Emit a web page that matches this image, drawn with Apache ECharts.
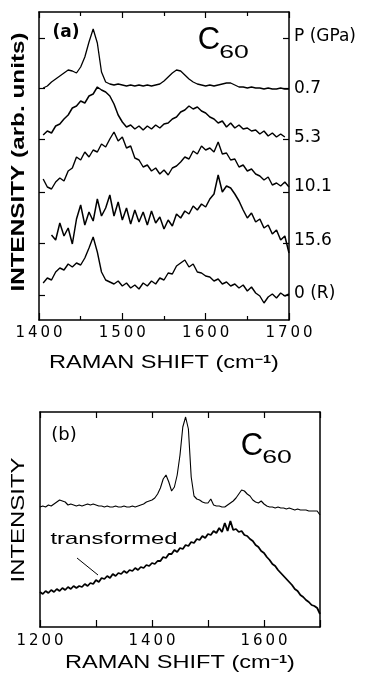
<!DOCTYPE html>
<html>
<head>
<meta charset="utf-8">
<script src="https://cdn.jsdelivr.net/npm/echarts@6/dist/echarts.min.js"></script>
<style>
  html, body { margin: 0; padding: 0; background: #fff; }
  #chart { width: 378px; height: 674px; }
</style>
</head>
<body>
<div id="chart"></div>
<script>
// ---- panel (a): Raman shift (cm-1) and offset spectra at each pressure ----
var waveA = [1405, 1410, 1415, 1420, 1425, 1430, 1435, 1440, 1445, 1450,
    1455, 1460, 1465, 1470, 1475, 1480, 1485, 1490, 1495, 1500,
    1505, 1510, 1515, 1520, 1525, 1530, 1535, 1540, 1545, 1550,
    1555, 1560, 1565, 1570, 1575, 1580, 1585, 1590, 1595, 1600,
    1605, 1610, 1615, 1620, 1625, 1630, 1635, 1640, 1645, 1650,
    1655, 1660, 1665, 1670, 1675, 1680, 1685, 1690, 1695, 1700];
var p07 = [232, 234, 238, 241, 244, 247, 250, 249, 247, 253,
    263, 278, 291, 277, 248, 238, 236, 235, 236, 235,
    234, 235, 234, 235, 234, 235, 234, 235, 236, 239,
    243, 247, 250, 249, 245, 241, 238, 236, 235, 234,
    235, 234, 235, 236, 237, 237, 235, 233, 233, 232,
    233, 232, 232, 231, 232, 231, 231, 232, 231, 231];
var p53 = [185, 189, 187, 194, 196, 201, 205, 212, 214, 219,
    217, 224, 226, 233, 230, 228, 224, 216, 205, 198,
    193, 195, 191, 194, 190, 194, 191, 195, 192, 196,
    197, 201, 203, 208, 210, 214, 211, 213, 209, 207,
    203, 201, 197, 199, 193, 197, 192, 195, 191, 192,
    189, 190, 186, 189, 184, 187, 183, 186, 183, null];
var p101 = [141, 133, 131, 138, 142, 139, 149, 152, 163, 160,
    168, 163, 170, 168, 176, 173, 181, 188, 179, 183,
    172, 174, 162, 160, 153, 155, 149, 152, 146, 150,
    145, 152, 154, 158, 163, 161, 169, 166, 174, 170,
    172, 168, 178, 166, 167, 160, 161, 153, 155, 149,
    151, 146, 144, 140, 143, 135, 137, 134, 138, 133];
var p156 = [null, null, 85, 80, 97, 84, 92, 76, 101, 115,
    95, 108, 99, 121, 104, 112, 125, 104, 118, 100,
    112, 96, 110, 98, 108, 95, 109, 97, 103, 91,
    100, 94, 106, 102, 109, 106, 114, 110, 116, 113,
    121, 126, 145, 128, 134, 132, 126, 119, 110, 102,
    107, 98, 101, 92, 95, 86, 90, 80, 84, 67];
var p0R = [37, 42, 40, 48, 52, 50, 56, 53, 57, 55,
    62, 72, 83, 68, 48, 40, 38, 36, 39, 34,
    37, 32, 35, 31, 37, 34, 39, 36, 42, 40,
    47, 46, 54, 57, 60, 53, 56, 48, 47, 44,
    43, 39, 41, 36, 38, 34, 36, 32, 35, 29,
    33, 27, 24, 17, 23, 26, 22, 27, 24, 26];
var pressureNames = ['P (GPa)', '0.7', '5.3', '10.1', '15.6', '0 (R)'];
var pressureLabelAt = [283, 231, 182, 133, 79, 26];
var baselineTicks = [25, 77, 128, 181, 232, 282];

// ---- panel (b): pristine and transformed C60 ----
var waveB = [1200, 1205, 1210, 1215, 1220, 1225, 1230, 1235, 1240, 1245,
    1250, 1255, 1260, 1265, 1270, 1275, 1280, 1285, 1290, 1295,
    1300, 1305, 1310, 1315, 1320, 1325, 1330, 1335, 1340, 1345,
    1350, 1355, 1360, 1365, 1370, 1375, 1380, 1385, 1390, 1395,
    1400, 1405, 1410, 1415, 1420, 1425, 1430, 1435, 1440, 1445,
    1450, 1455, 1460, 1465, 1470, 1475, 1480, 1485, 1490, 1495,
    1500, 1505, 1510, 1515, 1520, 1525, 1530, 1535, 1540, 1545,
    1550, 1555, 1560, 1565, 1570, 1575, 1580, 1585, 1590, 1595,
    1600, 1605, 1610, 1615, 1620, 1625, 1630, 1635, 1640, 1645,
    1650, 1655, 1660, 1665, 1670, 1675, 1680, 1685, 1690, 1695,
    1700];
var pristine = [120, 121, 120, 122, 121, 123, 125, 127, 126, 125,
    122, 123, 122, 121, 122, 121, 122, 123, 122, 123,
    122, 121, 121, 120, 121, 120, 120, 121, 120, 120,
    121, 120, 120, 121, 120, 121, 122, 123, 125, 126,
    127, 129, 133, 139, 148, 152, 145, 136, 140, 152,
    172, 200, 210, 198, 150, 131, 128, 127, 125, 124,
    124, 128, 122, 121, 121, 120, 120, 122, 124, 126,
    129, 133, 137, 136, 133, 131, 127, 125, 124, 126,
    123, 121, 120, 120, 119, 120, 119, 119, 118, 119,
    118, 117, 118, 117, 117, 117, 116, 116, 116, 116,
    112];
var transformed = [35, 33, 36, 34, 37, 35, 38, 36, 39, 37,
    40, 38, 41, 39, 41, 40, 43, 41, 44, 43,
    47, 45, 49, 48, 51, 49, 53, 51, 54, 53,
    56, 54, 57, 56, 59, 57, 60, 59, 62, 61,
    64, 63, 66, 66, 70, 69, 73, 73, 77, 75,
    79, 78, 82, 81, 85, 84, 88, 87, 91, 89,
    93, 92, 96, 94, 99, 95, 104, 96, 106, 97,
    98, 95, 96, 92, 91, 88, 86, 82, 80, 76,
    74, 70, 67, 63, 61, 57, 54, 51, 48, 45,
    42, 38, 36, 32, 30, 27, 25, 22, 21, 19,
    13];

function pairs(xs, ys) {
    var out = [];
    for (var i = 0; i < xs.length; i++) {
        if (ys[i] != null) out.push([xs[i], ys[i]]);
    }
    return out;
}

function spaced(v) { // wide-set digits like the printed figure
    return String(v).split('').join('\u2009');
}

function spectrum(data, xi, yi, w) {
    return {
        type: 'line', data: data, xAxisIndex: xi, yAxisIndex: yi,
        symbol: 'none', silent: true,
        lineStyle: { color: '#000', width: w || 1.3 }
    };
}

function txt(x, y, text, font, extra) {
    var el = {
        type: 'text', x: x, y: y, silent: true,
        style: {
            text: text, font: font, fill: '#000',
            align: 'center', verticalAlign: 'middle',
            textAlign: 'center', textVerticalAlign: 'middle'
        }
    };
    if (extra) {
        for (var k in extra) {
            if (k === 'rich') el.style.rich = extra[k];
            else el[k] = extra[k];
        }
    }
    return el;
}

var sans = '"Liberation Sans", Arial, sans-serif';
var shiftRich = {
    n: { font: '18px ' + sans, fill: '#000' },
    s: { font: 'bold 11px ' + sans, fill: '#000', verticalAlign: 'top' }
};

var boxLine = { show: true, onZero: false, lineStyle: { color: '#000', width: 1.5 } };
var tickStyle = { color: '#000', width: 1.2 };
var tickFont = { color: '#000', fontFamily: 'DejaVu Sans', fontSize: 15 };

var myChart = echarts.init(document.getElementById('chart'));
var option = {
    backgroundColor: '#fff',
    animation: false,
    grid: [
        { left: 39, top: 12, width: 250, height: 308 },
        { left: 40, top: 412, width: 280, height: 215 }
    ],
    xAxis: [
        { // (a) bottom
            gridIndex: 0, type: 'value', min: 1400, max: 1700, interval: 100,
            axisLine: boxLine,
            axisTick: { inside: true, length: 7, lineStyle: tickStyle },
            minorTick: { show: true, splitNumber: 2, length: 4, lineStyle: tickStyle },
            axisLabel: Object.assign({ margin: 6, formatter: spaced, alignMinLabel: 'center', alignMaxLabel: 'center', hideOverlap: false }, tickFont),
            splitLine: { show: false }
        },
        { // (a) top
            gridIndex: 0, type: 'value', position: 'top', min: 1400, max: 1700, interval: 100,
            axisLine: boxLine,
            axisTick: { inside: true, length: 6, lineStyle: tickStyle },
            minorTick: { show: true, splitNumber: 2, length: 4, lineStyle: tickStyle },
            axisLabel: { show: false },
            splitLine: { show: false }
        },
        { // (b) bottom
            gridIndex: 1, type: 'value', min: 1200, max: 1700, interval: 100,
            axisLine: boxLine,
            axisTick: { inside: true, length: 7, lineStyle: tickStyle },
            axisLabel: Object.assign({
                margin: 7, alignMinLabel: 'center', alignMaxLabel: 'center', hideOverlap: false,
                formatter: function(v) { return v % 200 === 0 ? spaced(v) : ''; }
            }, tickFont),
            splitLine: { show: false }
        },
        { // (b) top
            gridIndex: 1, type: 'value', position: 'top', min: 1200, max: 1700, interval: 100,
            axisLine: boxLine,
            axisTick: { inside: true, length: 6, lineStyle: tickStyle },
            axisLabel: { show: false },
            splitLine: { show: false }
        }
    ],
    yAxis: [
        {
            gridIndex: 0, type: 'value', min: 0, max: 308,
            axisLine: boxLine,
            axisTick: { inside: true, length: 6, lineStyle: tickStyle, customValues: baselineTicks },
            axisLabel: { show: false },
            splitLine: { show: false }
        },
        {
            gridIndex: 0, type: 'value', position: 'right', min: 0, max: 308,
            axisLine: boxLine,
            axisTick: { inside: true, length: 6, lineStyle: tickStyle, customValues: baselineTicks },
            axisLabel: {
                margin: 5, color: '#000', fontFamily: 'DejaVu Sans', fontSize: 17,
                customValues: pressureLabelAt,
                formatter: function(v) {
                    var i = pressureLabelAt.indexOf(v);
                    return i < 0 ? '' : pressureNames[i];
                }
            },
            splitLine: { show: false }
        },
        {
            gridIndex: 1, type: 'value', min: 0, max: 215,
            axisLine: boxLine, axisTick: { show: false }, axisLabel: { show: false },
            splitLine: { show: false }
        },
        {
            gridIndex: 1, type: 'value', position: 'right', min: 0, max: 215,
            axisLine: boxLine, axisTick: { show: false }, axisLabel: { show: false },
            splitLine: { show: false }
        }
    ],
    series: [
        spectrum(pairs(waveA, p07), 0, 0, 1.3),
        spectrum(pairs(waveA, p53), 0, 0, 1.5),
        spectrum(pairs(waveA, p101), 0, 0, 1.4),
        spectrum(pairs(waveA, p156), 0, 0, 1.5),
        spectrum(pairs(waveA, p0R), 0, 0, 1.4),
        spectrum(pairs(waveB, pristine), 2, 2, 1.1),
        spectrum(pairs(waveB, transformed), 2, 2, 1.8)
    ],
    graphic: [
        // panel (a)
        txt(66, 33, '(a)', 'bold 17px "DejaVu Sans"'),
        txt(209, 40, 'C', '31px ' + sans),
        txt(234, 53, '60', '19px ' + sans, { scaleX: 1.4 }),
        txt(19, 162, 'INTENSITY (arb. units)', 'bold 18px ' + sans, { rotation: Math.PI / 2, scaleX: 1.35 }),
        txt(164, 363, '{n|RAMAN SHIFT (cm}{s|\u22121}{n|)}', '18px ' + sans, { scaleX: 1.31, rich: shiftRich }),
        // panel (b)
        txt(64, 435, '(b)', '18px "DejaVu Sans"'),
        txt(252, 446, 'C', '31px ' + sans),
        txt(277, 458, '60', '19px ' + sans, { scaleX: 1.4 }),
        txt(114, 539, 'transformed', '17px ' + sans, { scaleX: 1.4 }),
        {
            type: 'line', silent: true,
            shape: { x1: 77, y1: 558, x2: 98, y2: 575 },
            style: { stroke: '#000', lineWidth: 1 }
        },
        txt(19, 520, 'INTENSITY', '18px ' + sans, { rotation: Math.PI / 2, scaleX: 1.33 }),
        txt(180, 663, '{n|RAMAN SHIFT (cm}{s|\u22121}{n|)}', '18px ' + sans, { scaleX: 1.31, rich: shiftRich })
    ]
};
myChart.setOption(option);
</script>
</body>
</html>
